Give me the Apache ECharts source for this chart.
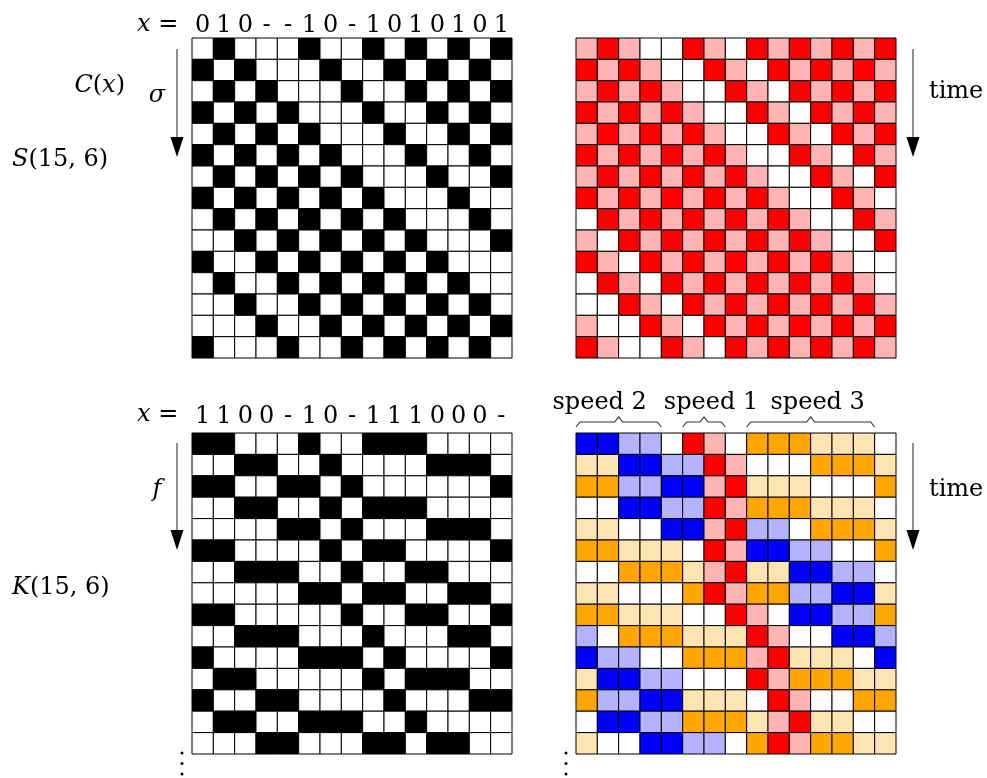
<!DOCTYPE html>
<html>
<head>
<meta charset="utf-8">
<script src="https://cdn.jsdelivr.net/npm/echarts@6/dist/echarts.min.js"></script>
<style>
  html, body { margin: 0; padding: 0; background: #fff; }
  #chart { width: 987px; height: 778px; }
</style>
</head>
<body>
<div id="chart"></div>
<script>
// top labels of the two left grids
var sLabels = ['0', '1', '0', '-', '-', '1', '0', '-', '1', '0', '1', '0', '1', '0', '1'];
var kLabels = ['1', '1', '0', '0', '-', '1', '0', '-', '1', '1', '1', '0', '0', '0', '-'];

// S(15,6): 1 = black
var sRows = [
  '010001001010101',
  '101000100101010',
  '010100010010101',
  '101010001001010',
  '010101000100101',
  '101010100010010',
  '010101010001001',
  '101010101000100',
  '010101010100010',
  '001010101010001',
  '100101010101000',
  '010010101010100',
  '001001010101010',
  '000100101010101',
  '100010010101010'
];
// time evolution, 0 white, 1 pink, 2 red
var sTimeRows = [
  '121002102121212',
  '212100210212121',
  '121210021021212',
  '212121002102121',
  '121212100210212',
  '212121210021021',
  '121212121002102',
  '212121212100210',
  '021212121210021',
  '102121212121002',
  '210212121212100',
  '021021212121210',
  '002102121212121',
  '100210212121212',
  '210021021212121'
];
// K(15,6): 1 = black
var kRows = [
  '110001001110000',
  '001100100001110',
  '110011010000001',
  '001100101110000',
  '000011010001110',
  '110000101100001',
  '001110010011000',
  '000001101100110',
  '110000010011001',
  '001110001000110',
  '100001110100001',
  '011000001011100',
  '100110000100011',
  '011001110010000',
  '000110001101100'
];
// 0 white, 1 light orange, 2 orange, 3 light blue, 4 blue, 5 pink, 6 red
var kTimeRows = [
  '443306502221110',
  '114433650002221',
  '223344561110002',
  '004433652221110',
  '110044563302221',
  '221110654433002',
  '002221561144330',
  '110002652233441',
  '221110065044332',
  '302221116500443',
  '433002225611104',
  '144330006522211',
  '233441110650022',
  '044332221561100',
  '100443302652211'
];
// brace groups over the bottom right grid: [first col, last col, label]
var speedGroups = [[0, 3, 'speed 2'], [5, 6, 'speed 1'], [8, 13, 'speed 3']];

var bw = ['#ffffff', '#000000'];
var reds = ['#ffffff', '#ffb3b3', '#ff0000'];
var mix = ['#ffffff', '#ffe4b3', '#ffa500', '#b3b3ff', '#0000ff', '#ffb3b3', '#ff0000'];

var serif = 'DejaVu Serif';
var fs = 24;
var idx = [];
for (var i = 0; i < 15; i++) idx.push(i);

function cells(rows) {
  var out = [];
  rows.forEach(function (r, y) {
    for (var x = 0; x < r.length; x++) out.push([x, y, +r[x]]);
  });
  return out;
}

function gridSeries(n, rows, palette) {
  return {
    type: 'custom',
    xAxisIndex: n,
    yAxisIndex: n,
    data: cells(rows),
    renderItem: function (params, api) {
      var p = api.coord([api.value(0), api.value(1)]);
      var s = api.size([1, 1]);
      return {
        type: 'rect',
        shape: { x: p[0] - s[0] / 2, y: p[1] - s[1] / 2, width: s[0], height: s[1] },
        style: { fill: palette[api.value(2)], stroke: '#000', lineWidth: 1 }
      };
    }
  };
}

function xAxis(n, labels, margin) {
  return {
    type: 'category',
    gridIndex: n,
    data: idx,
    position: 'top',
    axisLine: { show: false },
    axisTick: { show: false },
    splitLine: { show: false },
    axisLabel: {
      show: !!labels,
      interval: 0,
      margin: margin,
      verticalAlign: 'middle',
      fontFamily: serif,
      fontSize: fs,
      color: '#000',
      formatter: function (v, i) { return labels ? labels[i] : ''; }
    }
  };
}

function yAxis(n) {
  return {
    type: 'category', gridIndex: n, data: idx, inverse: true,
    axisLine: { show: false }, axisTick: { show: false }, axisLabel: { show: false }
  };
}

var chart = echarts.init(document.getElementById('chart'));
chart.setOption({
  animation: false,
  grid: [
    { left: 192, top: 38, width: 320, height: 320 },
    { left: 576, top: 38, width: 320, height: 320 },
    { left: 192, top: 433, width: 320, height: 321 },
    { left: 576, top: 433, width: 320, height: 321 }
  ],
  xAxis: [xAxis(0, sLabels, 12), xAxis(1, null, 8), xAxis(2, kLabels, 16), xAxis(3, null, 8)],
  yAxis: [yAxis(0), yAxis(1), yAxis(2), yAxis(3)],
  series: [
    gridSeries(0, sRows, bw),
    gridSeries(1, sTimeRows, reds),
    gridSeries(2, kRows, bw),
    gridSeries(3, kTimeRows, mix)
  ]
});

function label(x, y, text, align) {
  return {
    type: 'text', x: x, y: y,
    style: {
      text: text, fontFamily: serif, fontSize: fs, fill: '#000',
      align: align || 'left', verticalAlign: 'middle',
      rich: { i: { fontStyle: 'italic', fontFamily: serif, fontSize: fs } }
    }
  };
}

function arrow(x, y0, y1) {
  return [
    { type: 'line', shape: { x1: x, y1: y0, x2: x, y2: y1 - 15 }, style: { stroke: '#555', lineWidth: 1.3 } },
    { type: 'polygon', shape: { points: [[x - 6.5, y1 - 20], [x + 6.5, y1 - 20], [x, y1]] }, style: { fill: '#000' } }
  ];
}

function dots(x, y) {
  return [0, 1, 2].map(function (k) {
    return { type: 'circle', shape: { cx: x, cy: y + k * 10.5, r: 1.5 }, style: { fill: '#000' } };
  });
}

var g = [
  label(186, 25, '{i|x} = ', 'right'),
  label(186, 415, '{i|x} = ', 'right'),
  label(125, 86, '{i|C}({i|x})', 'right'),
  label(157, 96, '{i|σ}', 'center'),
  label(12, 160, '{i|S}(15, 6)'),
  label(157, 490, '{i|f}', 'center'),
  label(12, 588, '{i|K}(15, 6)'),
  label(929, 92, 'time'),
  label(929, 490, 'time')
];
g = g.concat(arrow(177, 49, 157), arrow(913, 49, 157), arrow(177, 443, 550), arrow(913, 443, 550));
g = g.concat(dots(182, 753), dots(566, 753));

// braces over the speed groups, placed from the axis of the fourth grid
var textShift = [-19, 7, 7];
var c0 = chart.convertToPixel({ xAxisIndex: 3 }, 0);
var half = (chart.convertToPixel({ xAxisIndex: 3 }, 1) - c0) / 2;
speedGroups.forEach(function (sg, k) {
  var a = chart.convertToPixel({ xAxisIndex: 3 }, sg[0]) - half;
  var b = chart.convertToPixel({ xAxisIndex: 3 }, sg[1]) + half;
  var m = (a + b) / 2;
  g.push({
    type: 'polyline',
    shape: { points: [[a, 427], [a + 4, 422], [m - 4, 422], [m, 417], [m + 4, 422], [b - 4, 422], [b, 427]] },
    style: { stroke: '#333', lineWidth: 1.2, fill: null }
  });
  g.push(label(m + textShift[k], 403, sg[2], 'center'));
});

chart.setOption({ graphic: g });
</script>
</body>
</html>
